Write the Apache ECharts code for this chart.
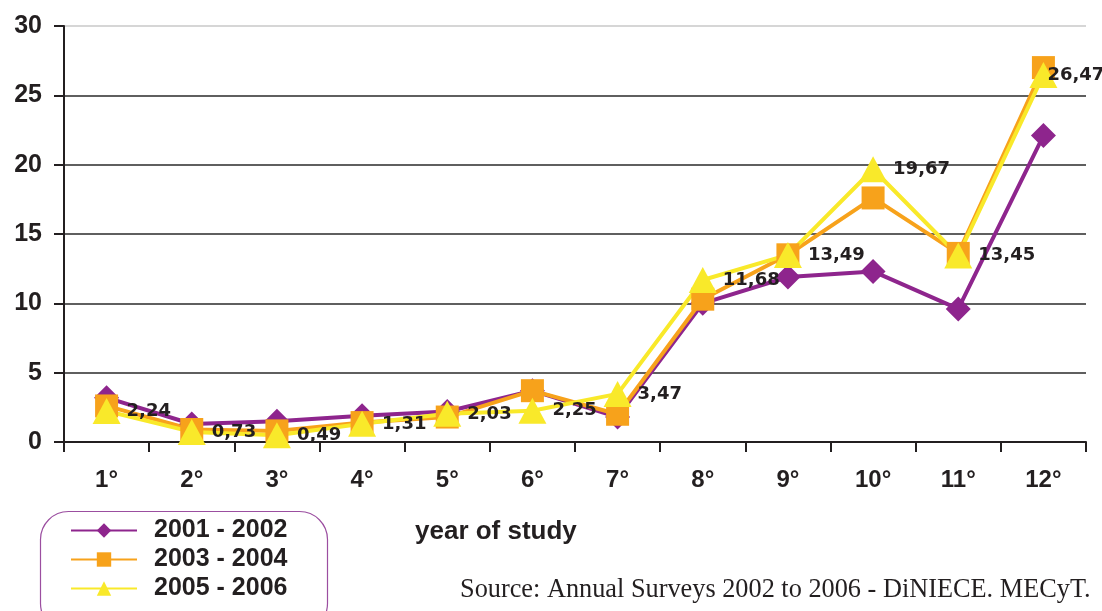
<!DOCTYPE html>
<html>
<head>
<meta charset="utf-8">
<script src="https://cdn.jsdelivr.net/npm/echarts@6/dist/echarts.min.js"></script>
<style>
    html, body { margin: 0; padding: 0; background: #fff; }
    #chart { width: 1102px; height: 611px; }
</style>
</head>
<body>
<div id="chart"></div>
<script>
const years = ["1°", "2°", "3°", "4°", "5°", "6°", "7°", "8°", "9°", "10°", "11°", "12°"];
const y2001 = [3.2, 1.3, 1.5, 1.9, 2.2, 3.7, 1.8, 10.0, 11.9, 12.3, 9.6, 22.1];
const y2003 = [2.6, 0.9, 0.8, 1.4, 1.8, 3.7, 2.0, 10.3, 13.5, 17.6, 13.6, 27.0];
const y2005 = [2.24, 0.73, 0.49, 1.31, 2.03, 2.25, 3.47, 11.68, 13.49, 19.67, 13.45, 26.47];
const yTicks = [0, 5, 10, 15, 20, 25, 30];

const font = "Liberation Sans, Arial, sans-serif";
const ink = "#231f20";

document.addEventListener("DOMContentLoaded", function () {
    const chart = echarts.init(document.getElementById("chart"));

    // top gridline (30) is light grey, the rest dark
    const gridColors = yTicks.map((v) => (v === 30 ? "#c8c8c8" : "#2a2a2a"));

    // last label sits over the marker, the rest to its right
    const labelled = y2005.map((v, i) =>
        i === y2005.length - 1 ? { value: v, label: { offset: [-16, 0] } } : v
    );

    chart.setOption({
        animation: false,
        grid: { left: 64, right: 16, top: 26, bottom: 169 },
        legend: {
            orient: "vertical",
            left: 70,
            top: 518,
            padding: 0,
            itemWidth: 66,
            itemHeight: 18,
            itemGap: 4,
            textStyle: { fontFamily: font, fontWeight: "bold", fontSize: 25, color: ink, padding: [0, 0, 0, 12] },
            data: ["2001 - 2002", "2003 - 2004", "2005 - 2006"]
        },
        xAxis: {
            type: "category",
            data: years,
            boundaryGap: true,
            axisLine: { lineStyle: { color: ink, width: 2 } },
            axisTick: { show: true, length: 10, lineStyle: { color: ink, width: 2 } },
            axisLabel: { margin: 26, fontFamily: font, fontWeight: "bold", fontSize: 24, color: ink }
        },
        yAxis: {
            type: "value",
            min: 0,
            max: 30,
            interval: 5,
            axisLine: { show: true, lineStyle: { color: ink, width: 2 } },
            axisTick: { show: true, length: 10, lineStyle: { color: ink, width: 2 } },
            axisLabel: { margin: 22, fontFamily: font, fontWeight: "bold", fontSize: 25, color: ink },
            splitLine: { lineStyle: { color: gridColors, width: 1.6 } }
        },
        graphic: [
            {
                type: "rect",
                left: 38,
                top: 509,
                shape: { width: 287, height: 120, r: 28 },
                style: { fill: "none", stroke: "#9b4ea0", lineWidth: 1.2 }
            },
            {
                type: "text",
                left: 415,
                top: 519,
                style: { text: "year of study", font: "bold 26px " + font, fill: ink }
            },
            {
                type: "text",
                left: 460,
                top: 577,
                style: {
                    text: "Source: Annual Surveys 2002 to 2006 - DiNIECE. MECyT.",
                    font: "26.3px Liberation Serif, Times New Roman, serif",
                    fill: ink
                }
            }
        ],
        series: [
            {
                name: "2001 - 2002",
                type: "line",
                data: y2001,
                symbol: "diamond",
                symbolSize: 25,
                color: "#8e258d",
                lineStyle: { width: 4 }
            },
            {
                name: "2003 - 2004",
                type: "line",
                data: y2003,
                symbol: "rect",
                symbolSize: 23,
                color: "#f7a21b",
                lineStyle: { width: 4 }
            },
            {
                name: "2005 - 2006",
                type: "line",
                data: labelled,
                symbol: "triangle",
                symbolSize: [28, 26],
                color: "#f9e92a",
                lineStyle: { width: 4 },
                label: {
                    show: true,
                    position: "right",
                    distance: 6,
                    fontFamily: "DejaVu Sans, Verdana, sans-serif",
                    fontWeight: "bold",
                    fontSize: 18,
                    color: ink,
                    formatter: (p) => String(p.value).replace(".", ",")
                }
            }
        ]
    });
});
</script>
</body>
</html>
